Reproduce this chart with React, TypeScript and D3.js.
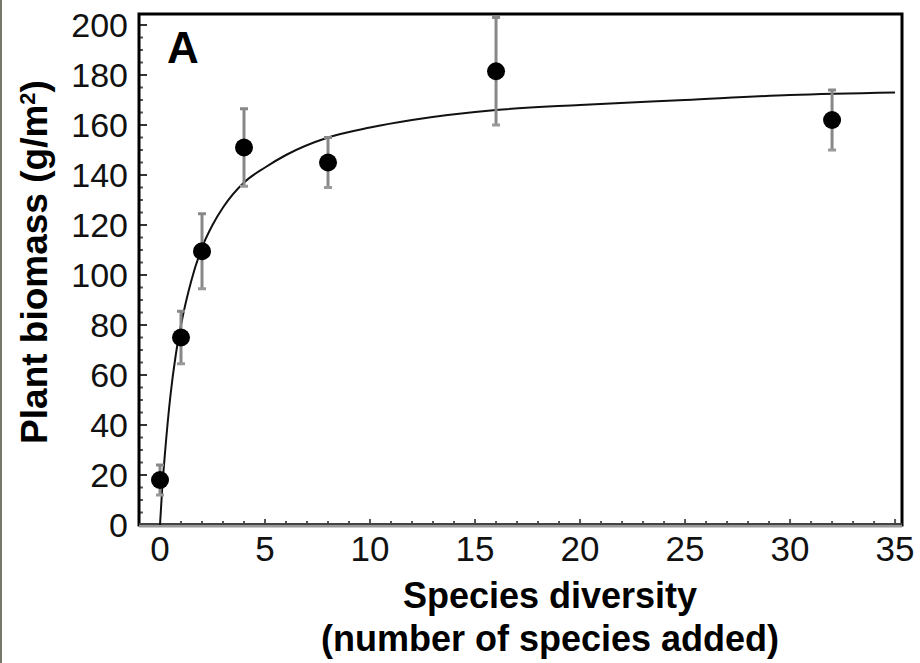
import { useMemo } from "react";
import * as d3 from "d3";

const W = 920;
const H = 663;

// points and error bars (sd)
const speciesAdded = [0, 1, 2, 4, 8, 16, 32];
const biomass = [18, 75, 109.5, 151, 145, 181.5, 162];
const biomassErr = [6, 10.5, 15, 15.5, 10, 21.5, 12];

// fitted saturating curve, sampled from the figure
const fitX = [0, 0.1, 0.25, 0.5, 0.75, 1, 1.5, 2, 2.5, 3, 4, 5, 6, 8, 10, 12, 16, 20, 25, 30, 35];
const fitY = [0, 14, 30, 52, 68, 80, 98, 111, 120, 127, 137, 143, 148, 155, 159, 162, 166, 168, 170, 172, 173];

const xTicks = [0, 5, 10, 15, 20, 25, 30, 35];
const yTicks = [0, 20, 40, 60, 80, 100, 120, 140, 160, 180, 200];

const FONT = "'Liberation Sans', Arial, sans-serif";

export default function App() {
  const xScale = useMemo(
    () => d3.scaleLinear().domain([-1, 35.33]).range([139, 902]),
    []
  );
  const yScale = useMemo(
    () => d3.scaleLinear().domain([0, 204.4]).range([525, 14]),
    []
  );

  const fitPath = d3
    .line<number>()
    .x((d, i) => xScale(fitX[i]))
    .y((d) => yScale(d))
    .curve(d3.curveMonotoneX)(fitY);

  const minorY = d3.range(0, 205, 5).filter((v) => v % 20 !== 0);
  const minorX = d3.range(1, 36, 1);

  const left = xScale(-1);
  const right = xScale(35.33);
  const top = yScale(204.4);
  const bottom = yScale(0);

  return (
    <div style={{ position: "absolute", left: 0, top: 0 }}>
      <svg width={W} height={H} style={{ display: "block", background: "#fff" }}>
        <line x1={1} x2={1} y1={0} y2={H} stroke="#77776a" strokeWidth={2} />

        {/* y ticks */}
        {minorY.map((v) => (
          <line key={"my" + v} x1={left} x2={left + 4} y1={yScale(v)} y2={yScale(v)} stroke="#555" strokeWidth={2} />
        ))}
        {yTicks.map((v) => (
          <g key={"y" + v}>
            <line x1={left} x2={left + 8} y1={yScale(v)} y2={yScale(v)} stroke="#333" strokeWidth={2} />
            <text x={128} y={yScale(v)} dy="0.36em" textAnchor="end" fontFamily={FONT} fontSize={34} fill="#111">
              {v}
            </text>
          </g>
        ))}

        {/* x ticks */}
        {minorX.map((v) => (
          <line key={"mx" + v} x1={xScale(v)} x2={xScale(v)} y1={bottom} y2={bottom - (v % 5 === 0 ? 6 : 4)} stroke="#555" strokeWidth={2} />
        ))}
        {xTicks.map((v) => (
          <text key={"x" + v} x={xScale(v)} y={561} textAnchor="middle" fontFamily={FONT} fontSize={35} fill="#111">
            {v}
          </text>
        ))}

        {/* frame */}
        <rect x={left} y={top} width={right - left} height={bottom - top} fill="none" stroke="#000" strokeWidth={3} />
        <line x1={left} x2={right} y1={bottom + 1} y2={bottom + 1} stroke="#999" strokeWidth={3} />
        <line x1={left} x2={right} y1={bottom - 1} y2={bottom - 1} stroke="#444" strokeWidth={2} />

        {/* fitted curve */}
        <path d={fitPath ?? ""} fill="none" stroke="#111" strokeWidth={2} />

        {/* error bars + points */}
        {speciesAdded.map((x, i) => {
          const cx = xScale(x);
          const hi = yScale(biomass[i] + biomassErr[i]);
          const lo = yScale(biomass[i] - biomassErr[i]);
          return (
            <g key={"p" + x}>
              <line x1={cx} x2={cx} y1={hi} y2={lo} stroke="#888" strokeWidth={3} />
              <line x1={cx - 4} x2={cx + 4} y1={hi} y2={hi} stroke="#888" strokeWidth={3} />
              <line x1={cx - 4} x2={cx + 4} y1={lo} y2={lo} stroke="#999" strokeWidth={3} />
              <circle cx={cx} cy={yScale(biomass[i])} r={9} fill="#000" />
            </g>
          );
        })}

        <text x={167} y={63} fontFamily={FONT} fontSize={44} fontWeight="bold" fill="#000">
          A
        </text>

        {/* axis titles */}
        <text x={550} y={608} textAnchor="middle" fontFamily={FONT} fontSize={36} fontWeight="bold" fill="#000">
          Species diversity
        </text>
        <text x={550} y={651} textAnchor="middle" fontFamily={FONT} fontSize={36} fontWeight="bold" fill="#000">
          (number of species added)
        </text>
        <text
          transform="translate(47,262) rotate(-90)"
          textAnchor="middle"
          fontFamily={FONT}
          fontSize={37}
          fontWeight="bold"
          fill="#000"
        >
          Plant biomass (g/m<tspan dy="-12" fontSize={22}>2</tspan><tspan dy="12">)</tspan>
        </text>
      </svg>
    </div>
  );
}
